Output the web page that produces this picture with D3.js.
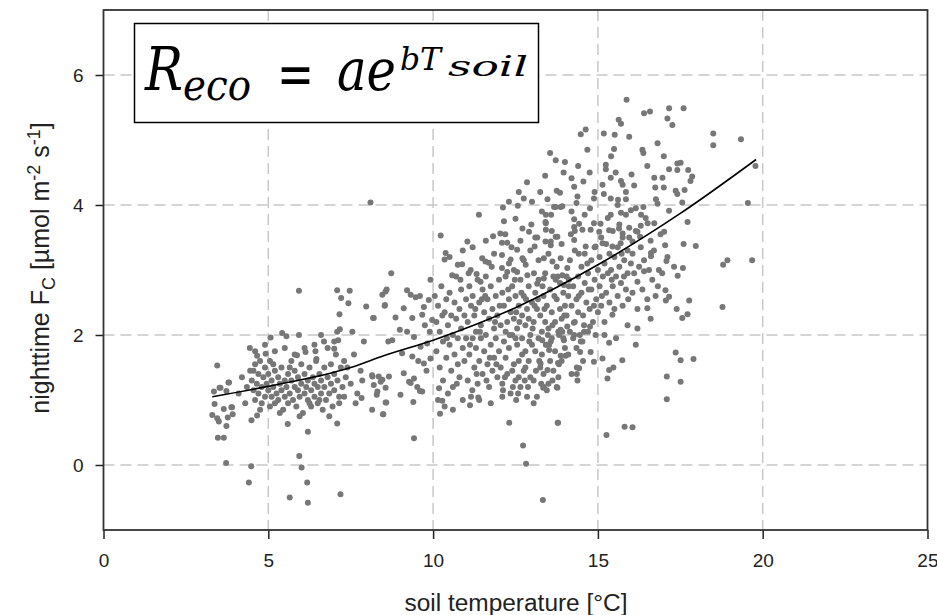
<!DOCTYPE html>
<html><head><meta charset="utf-8">
<script src="https://cdn.jsdelivr.net/npm/d3@7"></script>
<style>body{margin:0;background:#fff}svg{display:block}</style>
</head><body>
<svg id="c" width="937" height="615"></svg>
<script>
// ---- data ----
const xTicks = [0, 5, 10, 15, 20, 25];
const yTicks = [0, 2, 4, 6];
const xTitle = "soil temperature [°C]";

// fitted exponential curve
const fitTemp = [3.3, 5, 7.5, 8.5, 10, 12.5, 15, 17.5, 19.8];
const fitFlux = [1.05, 1.21, 1.5, 1.68, 1.92, 2.42, 3.08, 3.87, 4.7];

// observations [soil temperature, nighttime Fc]
const obsCool = [
[3.45,1.53],[3.35,1.13],[3.52,1.19],[3.79,1.27],[3.73,1.14],[3.37,0.94],[3.65,0.86],[3.88,0.89],[3.3,0.77],[3.45,0.72],
[3.5,0.67],[3.77,0.73],[3.92,0.78],[3.73,0.6],[3.47,0.42],[3.65,0.42],[3.72,0.03],[3.55,1.19],[3.81,1.27],[3.9,0.89],
[4.48,-0.02],[4.41,-0.27],[5.65,-0.5],[6.2,-0.58],[6.18,-0.27],[5.94,0.14],[6.01,-0.04],[7.19,-0.45],[7.09,0.64],[6.2,0.51],
[5.59,0.63],[4.49,0.69],[4.66,0.76],[5.93,2.68],[5.42,2.03],[5.55,1.98],[5.93,2.0],[5.07,1.96],[4.44,1.8],[4.66,1.68],[4.92,1.71],
[4.45,1.45],[4.5,1.3],[4.55,1.15],[4.6,1.55],[4.6,1.0],[4.65,1.25],[4.7,1.4],[4.7,1.1],[4.75,1.6],[4.8,1.2],[4.8,0.95],[4.85,1.35],
[4.9,1.5],[4.9,1.05],[4.95,1.25],[5.0,1.4],[5.0,1.15],[5.05,1.6],[5.05,0.9],[5.1,1.3],[5.1,1.05],[5.15,1.2],[5.2,1.45],[5.2,0.95],
[5.25,1.1],[5.3,1.35],[5.3,1.0],[5.35,1.25],[5.4,1.5],[5.4,1.15],[5.45,0.85],[5.5,1.3],[5.5,1.05],[5.55,1.2],[5.6,1.4],[5.6,0.95],
[5.65,1.1],[5.7,1.3],[5.7,1.6],[5.75,1.0],[5.8,1.2],[5.8,1.45],[5.85,0.9],[5.9,1.15],[5.9,1.35],[5.95,1.05],[6.0,1.25],[6.0,1.55],
[6.05,0.8],[6.1,1.1],[6.1,1.4],[6.15,1.2],[6.2,1.0],[6.2,1.3],[6.25,1.5],[6.3,0.9],[6.3,1.15],[6.35,1.35],[6.4,1.05],[6.4,1.25],
[6.45,1.6],[6.5,0.95],[6.5,1.2],[6.55,1.4],[6.6,1.1],[6.6,1.3],[6.65,0.85],[6.7,1.5],[6.7,1.2],[6.75,1.0],[6.8,1.35],[6.85,1.1],
[6.9,1.55],[6.9,1.25],[6.95,0.9],[7.0,1.4],[7.0,1.15],[7.05,1.7],[7.1,1.3],[7.15,1.05],[7.2,1.5],[7.25,1.2],[7.3,1.6],[7.35,1.35],
[4.6,1.75],[4.9,1.85],[5.2,1.75],[5.5,1.8],[5.8,1.7],[6.1,1.8],[6.4,1.85],[6.8,1.8],[7.0,1.9],[6.6,2.0],[5.87,1.69],[6.13,1.74],
[6.43,1.75],[6.46,1.63],[6.69,1.9],[7.0,1.79],[4.55,1.45],[4.75,0.85],[5.15,1.55],[5.35,0.8],[5.65,1.5],[5.95,0.75],[6.25,0.95],
[6.55,1.0],[6.85,0.75],[4.35,1.2],[4.3,0.95],[4.2,1.35],[4.1,1.1]
];
const obsMild = [
[7.09,2.69],[7.47,2.68],[7.21,2.57],[7.43,2.49],[8.56,2.67],[8.54,2.46],[7.97,2.44],[8.18,2.26],[7.16,2.32],[7.17,2.09],[7.09,2.05],
[7.12,1.92],[7.83,1.03],[8.15,0.85],[8.48,0.78],[8.16,1.36],[8.35,1.36],[8.46,1.31],[8.2,1.23],[8.56,1.19],[8.29,1.08],[8.56,0.96],
[8.64,1.9],[8.1,4.04],[7.4,1.5],[7.5,1.25],[7.6,1.7],[7.7,1.1],[7.8,1.45],[7.9,1.9],[7.55,2.05],[7.85,1.3],[7.3,1.05],[7.65,0.95],
[7.15,0.95],[8.73,2.95],[9.92,2.85],[8.2,2.26],[8.59,2.7],[8.46,2.62],[9.21,2.69],[9.32,2.62],[9.47,2.58],[8.53,2.45],[9.11,2.41],
[8.86,2.27],[9.37,2.26],[9.72,2.43],[9.87,2.54],[9.67,2.31],[9.97,2.23],[8.99,2.08],[9.21,2.05],[8.76,1.92],[9.42,1.97],[9.62,1.82],
[9.82,1.87],[9.06,1.72],[9.37,1.67],[9.72,1.56],[9.92,1.64],[8.15,1.38],[8.41,1.28],[8.66,1.36],[9.11,1.41],[9.27,1.28],[9.42,1.33],
[9.52,1.2],[9.67,1.13],[8.31,1.13],[9.01,1.08],[8.58,0.96],[8.49,0.78],[9.4,0.97],[9.42,0.41],[9.32,1.26],[9.6,1.14],[9.8,1.45],
[9.55,1.6],[9.9,2.05],[9.6,2.6],[9.75,2.15]
];
const obsWarm = [
[10.18,1.18],[10.28,0.99],[10.21,0.79],[10.23,3.53],[10.38,3.26],[10.35,3.16],[10.75,3.08],[10.88,3.09],[10.58,2.92],[10.83,2.85],
[10.05,2.6],[10.1,2.2],[10.1,1.75],[10.15,2.45],[10.2,1.5],[10.2,2.05],[10.25,2.75],[10.3,1.3],[10.3,1.9],[10.35,2.35],[10.4,1.65],
[10.4,2.55],[10.45,1.1],[10.45,2.15],[10.5,1.85],[10.5,2.65],[10.55,1.45],[10.55,2.3],[10.6,2.0],[10.6,1.2],[10.65,2.5],[10.65,1.7],
[10.7,2.25],[10.7,2.9],[10.75,1.55],[10.75,1.95],[10.8,2.4],[10.8,1.35],[10.85,2.1],[10.85,2.7],[10.9,1.8],[10.9,1.0],[10.95,2.3],
[10.95,1.6],[11.0,2.55],[11.0,1.95],[10.15,1.0],[10.35,0.9],[10.6,0.85],[10.5,3.2],[10.9,3.3],
[11.04,3.44],[11.14,3.0],[11.32,2.94],[11.39,3.85],[11.49,3.18],[11.69,3.11],[11.82,3.52],[11.59,3.13],[11.44,2.82],[11.12,0.92],
[11.37,1.04],[11.19,1.15],[11.05,1.3],[11.05,2.2],[11.1,1.7],[11.1,2.75],[11.15,2.45],[11.15,1.05],[11.2,1.95],[11.2,2.6],[11.25,1.5],
[11.25,2.3],[11.3,1.8],[11.3,2.05],[11.35,2.85],[11.35,1.25],[11.4,2.5],[11.4,1.6],[11.45,2.15],[11.45,1.95],[11.5,2.7],[11.5,1.4],
[11.55,2.35],[11.55,1.75],[11.6,2.0],[11.6,2.9],[11.65,1.55],[11.65,2.55],[11.7,1.2],[11.7,2.25],[11.75,1.85],[11.75,2.75],[11.8,1.45],
[11.8,2.4],[11.85,2.1],[11.85,1.65],[11.9,2.6],[11.9,1.95],[11.95,2.3],[11.95,1.35],[12.0,2.85],[12.0,1.75],[11.2,3.35],[11.6,3.45],
[11.85,3.25],[11.4,1.0],[11.75,0.95],
[12.04,3.56],[12.19,3.55],[12.09,3.42],[12.25,3.42],[12.12,3.96],[12.5,3.79],[12.57,3.99],[12.71,3.64],[12.91,3.59],[12.55,3.31],
[12.71,3.18],[12.81,3.08],[12.09,3.23],[12.35,3.16],[12.09,3.03],[12.25,2.97],[12.55,2.97],[12.86,2.92],[12.31,0.65],[12.52,1.0],
[12.73,0.3],[12.82,0.02],
[12.05,1.5],[12.05,2.15],[12.1,2.65],[12.1,1.25],[12.15,1.9],[12.15,2.45],[12.2,1.65],[12.2,2.9],[12.25,2.2],[12.25,1.4],[12.3,2.55],
[12.3,1.8],[12.35,1.1],[12.35,2.35],[12.4,2.0],[12.4,2.75],[12.45,1.55],[12.45,2.25],[12.5,1.3],[12.5,2.6],[12.55,1.85],[12.55,2.1],
[12.6,2.45],[12.6,1.6],[12.65,2.85],[12.65,1.2],[12.7,2.3],[12.7,1.95],[12.75,1.45],[12.75,2.6],[12.8,1.75],[12.8,2.15],[12.85,2.4],
[12.85,1.05],[12.9,1.6],[12.9,2.75],[12.95,2.0],[12.95,1.35],[13.0,2.5],[13.0,1.85],[12.1,1.05],[12.4,1.45],[12.6,1.35],[12.8,1.5],
[12.2,2.05],[12.5,1.95],[12.7,1.7],[12.9,2.25],[12.3,3.1],[12.45,3.0],[12.75,3.15],[12.95,3.3],[12.65,3.45],[12.15,3.75],[12.6,4.2],
[12.85,4.35],[12.3,4.05],[12.75,4.1]
];
const obsCore = [
[11.12,1.85],[11.28,2.4],[11.42,2.05],[11.58,2.6],[11.72,1.65],[11.88,2.2],[12.02,2.45],[12.18,1.35],[12.32,2.0],[12.48,2.85],
[12.62,2.2],[12.78,1.3],[12.92,1.9],[13.08,2.45],[13.22,1.6],[13.38,2.4],[13.52,1.85],[13.68,2.6],[13.82,1.55],[13.98,2.3],
[14.12,2.75],[14.28,2.0],[14.42,2.6],[14.58,2.05],[14.72,2.7],[14.88,2.45],[12.12,1.15],[12.42,1.2],[12.58,1.1],[12.88,1.2],
[13.12,1.45],[13.28,1.25],[13.62,1.3],[12.28,2.7],[12.52,2.35],[12.68,2.65],[12.82,2.55],[13.02,2.1],[13.18,2.55],[13.32,2.75],
[13.48,2.0],[13.62,2.15],[13.78,2.9],[13.92,2.05],[11.32,1.4],[11.62,1.3],[11.92,1.55],[10.72,1.25],[10.42,1.95],[10.28,2.3],
[11.08,2.95],[11.48,2.55],[11.78,3.05],[12.38,3.35],[12.98,3.7],[13.58,3.85],[14.18,3.55],[14.68,3.1],[14.42,3.25],[15.12,2.6],
[15.42,2.85],[15.72,3.25],[15.92,2.55]
];
const obsHot = [
[13.0,4.05],[13.41,3.74],[13.67,3.97],[13.87,3.97],[13.77,3.51],[13.16,3.5],[13.08,3.36],[13.41,3.44],[13.57,3.38],[13.36,3.18],
[13.62,3.13],[13.87,3.18],[14.07,3.03],[13.92,2.92],[13.06,2.95],[13.16,2.79],[13.36,2.87],[13.72,2.85],[13.97,2.77],[14.12,2.85],
[13.33,-0.54],[13.34,1.19],[13.77,1.19],[13.78,0.65],[13.79,0.65],
[13.05,1.3],[13.05,2.2],[13.1,1.75],[13.1,2.65],[13.15,2.4],[13.15,1.05],[13.2,1.95],[13.2,2.85],[13.25,1.5],[13.25,2.3],[13.3,2.05],
[13.3,1.7],[13.35,2.6],[13.35,1.4],[13.4,2.2],[13.4,2.95],[13.45,1.85],[13.45,2.45],[13.5,1.25],[13.5,2.1],[13.55,2.7],[13.55,1.6],
[13.6,2.35],[13.6,1.95],[13.65,2.9],[13.65,1.45],[13.7,2.2],[13.7,1.75],[13.75,2.55],[13.8,2.05],[13.8,1.35],[13.85,2.8],[13.85,2.4],
[13.9,1.6],[13.9,2.25],[13.95,2.65],[13.95,1.95],[14.0,2.45],[14.0,1.8],[13.2,3.15],[13.5,3.25],[13.75,3.05],[13.1,3.5],[13.3,3.9],
[13.6,3.6],[13.9,3.4],[13.25,4.2],[13.4,4.45],[13.05,0.95],[13.45,1.15],
[13.55,4.8],[13.72,4.69],[14.0,4.66],[13.96,4.5],[14.2,4.41],[14.56,4.36],[14.28,4.28],[13.75,4.22],[13.85,4.19],[13.47,4.09],
[14.38,4.13],[14.88,4.1],[13.72,3.97],[13.92,3.98],[14.35,4.03],[14.76,3.95],[13.42,3.85],[13.42,3.72],[14.28,3.78],[14.43,3.71],
[14.88,3.72],[13.42,3.62],[13.72,3.51],[14.28,3.66],[14.53,3.62],[14.78,3.62],[13.57,3.44],[14.28,3.46],[14.63,3.36],[14.93,3.36],
[14.63,5.16],[14.48,5.09],[14.68,4.85],
[14.07,2.13],[14.27,2.19],[14.58,2.15],[14.76,2.13],[14.93,2.0],[13.87,2.08],[13.82,2.0],[13.97,1.92],[14.48,1.9],[13.31,1.92],
[13.57,1.9],[13.42,1.85],[13.52,1.77],[14.53,1.9],[14.78,1.74],[14.46,1.74],[14.88,1.59],[14.02,1.68],[13.87,1.68],[13.79,1.57],
[13.47,1.46],[13.26,1.56],[14.36,1.5],[14.43,1.49],[14.36,1.4],[14.38,1.3],[13.36,1.2],[13.75,1.2],
[14.05,2.3],[14.05,2.9],[14.1,1.7],[14.1,2.6],[14.15,2.05],[14.15,3.15],[14.2,2.45],[14.2,1.4],[14.25,2.75],[14.25,1.95],[14.3,2.2],
[14.3,3.3],[14.35,2.55],[14.35,1.8],[14.4,2.9],[14.4,2.35],[14.45,2.0],[14.5,2.65],[14.5,3.05],[14.55,2.3],[14.55,1.6],[14.6,2.8],
[14.6,3.25],[14.65,2.5],[14.7,2.05],[14.7,2.95],[14.75,2.4],[14.8,3.15],[14.8,2.7],[14.85,2.2],[14.9,2.85],[14.9,3.35],[14.95,2.55],
[15.0,3.0],[15.0,2.35],[14.3,3.6],[14.6,3.85],[14.9,4.2],[14.4,4.6],[14.2,3.9],[14.75,4.5]
];
const obsHottest = [
[15.87,5.62],[16.4,5.41],[16.58,5.44],[17.16,5.49],[17.6,5.49],[17.11,5.33],[17.26,5.23],[15.63,5.31],[15.7,5.25],[15.18,5.1],
[15.51,5.08],[18.5,5.1],[18.5,4.92],[19.34,5.01],[16.81,4.95],[15.49,4.86],[16.35,4.85],[16.38,4.8],[17.0,4.75],[15.24,4.62],
[15.24,4.55],[15.54,4.5],[16.02,4.47],[17.16,4.55],[17.41,4.64],[17.51,4.65],[17.41,4.54],[17.74,4.54],[17.86,4.44],[17.81,4.37],
[17.63,4.23],[16.71,4.42],[16.96,4.42],[16.74,4.27],[17.0,4.27],[17.36,4.22],[17.41,4.17],[15.14,4.31],[15.39,4.42],[15.7,4.37],
[15.75,4.31],[15.18,4.17],[15.39,4.1],[15.61,4.08],[15.85,4.09],[16.76,4.09],[16.81,4.02],[17.56,4.04],[19.55,4.03],[19.78,4.6],
[16.38,3.97],[17.16,3.91],[17.72,3.74],[15.08,3.71],[15.39,3.85],[15.7,3.88],[15.85,3.85],[16.0,3.92],[16.15,3.95],[16.31,3.85],
[16.51,3.72],[16.71,3.72],[17.01,3.59],[15.04,3.59],[15.34,3.61],[15.64,3.64],[15.75,3.56],[15.95,3.5],[16.2,3.59],[16.28,3.51],
[16.3,3.68],[15.14,3.41],[15.44,3.36],[15.69,3.41],[16.05,3.44],[17.04,3.38],[17.6,3.4],[17.97,3.37],[16.61,3.26],[16.61,3.21],
[17.11,3.2],[17.08,3.14],[17.31,3.05],[17.42,2.91],[17.58,3.03],[18.8,3.08],[18.93,3.15],[19.68,3.15],[16.82,2.75],[17.05,2.69],
[16.4,2.98],[16.2,2.82],[15.79,2.9],[17.16,2.59],[17.06,2.53],[17.77,2.53],[16.5,2.41],[17.39,2.4],[17.72,2.32],[17.56,2.26],
[18.78,2.43],[15.44,2.31],[15.34,1.88],[16.15,1.85],[17.36,1.73],[17.51,1.61],[17.9,1.63],[15.74,1.61],[15.14,1.64],[15.47,1.5],
[15.34,1.46],[15.29,1.33],[17.09,1.36],[17.51,1.28],[17.09,1.01],[15.81,0.59],[16.05,0.58],[15.26,0.46],
[15.05,2.75],[15.05,3.2],[15.1,2.45],[15.1,3.5],[15.15,2.9],[15.2,3.1],[15.2,2.2],[15.25,2.65],[15.25,3.4],[15.3,2.95],[15.35,3.25],
[15.35,2.5],[15.4,3.0],[15.45,2.75],[15.45,3.6],[15.5,3.2],[15.5,2.4],[15.55,2.9],[15.6,3.35],[15.6,2.6],[15.65,3.05],[15.7,2.8],
[15.75,3.5],[15.75,2.45],[15.8,3.15],[15.85,2.7],[15.9,3.3],[15.9,2.95],[15.95,3.65],[16.0,3.1],[15.3,3.8],[15.6,4.0],[15.85,4.2],
[15.4,4.75],[15.95,5.05],[15.2,2.0],[15.55,1.95],[15.9,2.15],[15.65,3.7],
[16.05,2.65],[16.05,3.25],[16.1,2.95],[16.15,3.6],[16.2,2.4],[16.25,3.05],[16.3,3.35],[16.35,2.7],[16.4,3.15],[16.45,3.8],[16.5,2.55],
[16.55,3.0],[16.6,3.45],[16.65,2.85],[16.7,3.3],[16.75,2.6],[16.85,3.0],[16.9,3.55],[16.95,2.95],[16.1,4.3],[16.5,4.6],[16.2,2.1],
[16.6,2.25]
];

// ---- drawing ----
const svg = d3.select("#c");
const L = 103.5, R = 927.5, T = 10, B = 530;
const x = d3.scaleLinear().domain([0, 25]).range([L, R]);
const y = d3.scaleLinear().domain([-1, 7]).range([B, T]);
const FONT = "'Liberation Sans', Arial, sans-serif";

// grid
const grid = svg.append("g").attr("stroke", "#c8c8c8").attr("stroke-width", 1.5).attr("stroke-dasharray", "11,6");
grid.selectAll(".gx").data(xTicks.filter(d => d > 0 && d < 25)).join("line")
  .attr("x1", d => x(d)).attr("x2", d => x(d)).attr("y1", T).attr("y2", B);
grid.selectAll(".gy").data(yTicks).join("line")
  .attr("y1", d => y(d)).attr("y2", d => y(d)).attr("x1", L).attr("x2", R);

// points
const pts = [].concat(obsCool, obsMild, obsWarm, obsCore, obsHot, obsHottest);
svg.append("g").attr("fill", "#777").selectAll("circle").data(pts).join("circle")
  .attr("cx", d => x(d[0])).attr("cy", d => y(d[1])).attr("r", 3);

// fit curve
const fit = fitTemp.map((t, i) => [t, fitFlux[i]]);
svg.append("path").datum(fit)
  .attr("fill", "none").attr("stroke", "#000").attr("stroke-width", 1.6)
  .attr("d", d3.line().x(d => x(d[0])).y(d => y(d[1])).curve(d3.curveMonotoneX));

// axes
const xAxis = d3.axisBottom(x).tickValues(xTicks).tickSize(9).tickPadding(15).tickFormat(d3.format("d"));
const gx = svg.append("g").attr("transform", `translate(0,${B})`).call(xAxis);
const yAxis = d3.axisLeft(y).tickValues(yTicks).tickSize(8).tickPadding(12).tickFormat(d3.format("d"));
const gy = svg.append("g").attr("transform", `translate(${L},0)`).call(yAxis);
[gx, gy].forEach(g => {
  g.select(".domain").remove();
  g.selectAll(".tick line").attr("stroke", "#222").attr("stroke-width", 1.5);
  g.selectAll(".tick text").attr("fill", "#222").style("font-family", FONT).style("font-size", "19px");
});
gx.selectAll(".tick text").filter(d => d === 25).attr("text-anchor", "end").attr("dx", "0.55em");

// frame
svg.append("rect").attr("x", L).attr("y", T).attr("width", R - L).attr("height", B - T)
  .attr("fill", "none").attr("stroke", "#333").attr("stroke-width", 1.8);

// axis titles
svg.append("text").attr("x", 516).attr("y", 611).attr("text-anchor", "middle")
  .style("font-family", FONT).style("font-size", "23px").attr("fill", "#222")
  .attr("textLength", 223).attr("lengthAdjust", "spacingAndGlyphs").text(xTitle);

const yt = svg.append("text").attr("transform", "translate(49,268) rotate(-90)").attr("text-anchor", "middle")
  .style("font-family", FONT).style("font-size", "25px").attr("fill", "#222");
yt.append("tspan").text("nighttime F");
yt.append("tspan").attr("dy", 6).style("font-size", "18px").text("C");
yt.append("tspan").attr("dy", -6).text(" [µmol m");
yt.append("tspan").attr("dy", -9).style("font-size", "18px").text("-2");
yt.append("tspan").attr("dy", 9).text(" s");
yt.append("tspan").attr("dy", -9).style("font-size", "18px").text("-1");
yt.append("tspan").attr("dy", 9).text("]");

// formula box: one text element, pieces as tspans
svg.append("rect").attr("x", 134.5).attr("y", 23.5).attr("width", 404).attr("height", 99)
  .attr("fill", "#fff").attr("stroke", "#000").attr("stroke-width", 1.5);
const SERIF = "'DejaVu Serif', 'Liberation Serif', serif";
const f = svg.append("text").style("font-family", SERIF).style("font-style", "italic").attr("fill", "#000");
const piece = (tx, ty, size, len, s, upright) => {
  const t = f.append("tspan").attr("x", tx).attr("y", ty).style("font-size", size + "px")
    .attr("textLength", len).attr("lengthAdjust", "spacingAndGlyphs").text(s);
  if (upright) t.style("font-style", "normal");
};
piece(145, 90, 60, 38, "R");
piece(183, 100, 42, 68, "eco");
piece(277, 94, 60, 37, "=", true);
piece(337, 90, 58, 59, "ae");
piece(400, 70, 32, 41, "bT");
piece(448, 76, 28, 80, "soil");
</script>
</body></html>
